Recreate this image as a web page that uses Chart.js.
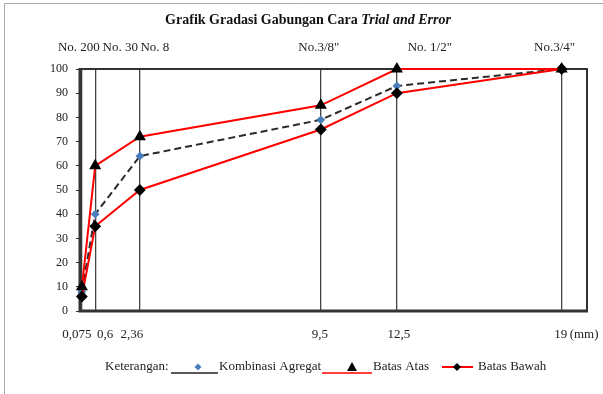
<!DOCTYPE html>
<html>
<head>
<meta charset="utf-8">
<script src="https://cdn.jsdelivr.net/npm/chart.js@4"></script>
<style>
  body { margin: 0; background: #fff; }
</style>
</head>
<body>
<canvas id="gradasiChart" width="603" height="394"></canvas>
<script>
// ukuran saringan (mm) dan nama saringan
var ukuranSaringan = [0.075, 0.6, 2.36, 9.5, 12.5, 19];
var labelBawah = ['0,075', '0,6', '2,36', '9,5', '12,5', '19'];
var labelAtas = ['No. 200', 'No. 30', 'No. 8', 'No.3/8"', 'No. 1/2"', 'No.3/4"'];

// persen lolos
var kombinasiAgregat = [8, 40, 64, 79, 93, 100];
var batasAtas = [10, 60, 72, 85, 100, 100];
var batasBawah = [6, 35, 50, 75, 90, 100];

var yTicks = [0, 10, 20, 30, 40, 50, 60, 70, 80, 90, 100];

// geser label supaya tidak tumpuk (px)
var geserAtas = [-3, 25, 15, -2, 33, -7];
var geserBawah = [-5, 10, -8, -1, 2, -1];

var FONT = '"Liberation Serif", "Times New Roman", serif';

function titik(arr){
  return arr.map(function(v, i){ return { x: ukuranSaringan[i], y: v }; });
}

var bingkai = {
  id: 'bingkai',
  beforeDatasetsDraw: function(chart){
    var c = chart.ctx, a = chart.chartArea;
    c.save();
    c.strokeStyle = '#333';
    c.lineWidth = 2;
    c.beginPath();
    c.moveTo(a.left, a.top); c.lineTo(a.right, a.top); c.lineTo(a.right, a.bottom);
    c.stroke();
    c.lineWidth = 3;
    c.beginPath();
    c.moveTo(a.left, a.top - 1); c.lineTo(a.left, a.bottom); c.lineTo(a.right + 1, a.bottom);
    c.stroke();
    c.restore();
  },
  afterDraw: function(chart){
    var c = chart.ctx, a = chart.chartArea, sx = chart.scales.x;
    c.save();
    // garis tepi halaman
    c.strokeStyle = '#aaa';
    c.lineWidth = 1;
    c.beginPath();
    c.moveTo(4.5, 394); c.lineTo(4.5, 3.5); c.lineTo(603, 3.5);
    c.stroke();

    // judul
    c.fillStyle = '#111';
    c.textBaseline = 'middle';
    var t1 = 'Grafik Gradasi Gabungan Cara ', t2 = 'Trial and Error';
    c.font = 'bold 14px ' + FONT;
    var w1 = c.measureText(t1).width;
    c.font = 'italic bold 14px ' + FONT;
    var w2 = c.measureText(t2).width;
    var x0 = 308 - (w1 + w2) / 2;
    c.font = 'bold 14px ' + FONT;
    c.textAlign = 'left';
    c.fillText(t1, x0, 20);
    c.font = 'italic bold 14px ' + FONT;
    c.fillText(t2, x0 + w1, 20);

    // label saringan atas dan bawah
    c.font = '13px ' + FONT;
    c.fillStyle = '#222';
    c.textAlign = 'center';
    ukuranSaringan.forEach(function(v, i){
      var px = sx.getPixelForValue(v);
      c.fillText(labelAtas[i], px + geserAtas[i], 48);
      c.fillText(labelBawah[i], px + geserBawah[i], 335);
    });
    c.textAlign = 'left';
    c.fillText('(mm)', sx.getPixelForValue(19) + 8, 335);

    // keterangan
    var ly = 367;
    c.fillText('Keterangan:', 105, ly);
    c.strokeStyle = '#222';
    c.lineWidth = 1.5;
    c.beginPath(); c.moveTo(171, 373); c.lineTo(218, 373); c.stroke();
    c.fillStyle = '#4a7ebb';
    c.beginPath(); c.moveTo(198, ly - 3.5); c.lineTo(201.5, ly); c.lineTo(198, ly + 3.5); c.lineTo(194.5, ly); c.closePath(); c.fill();
    c.fillStyle = '#222';
    c.fillText('Kombinasi Agregat', 219, ly);
    c.strokeStyle = '#ff0000';
    c.beginPath(); c.moveTo(322, 373); c.lineTo(372, 373); c.stroke();
    c.fillStyle = '#000';
    c.beginPath(); c.moveTo(352, ly - 5); c.lineTo(357, ly + 4); c.lineTo(347, ly + 4); c.closePath(); c.fill();
    c.fillStyle = '#222';
    c.fillText('Batas Atas', 373, ly);
    c.lineWidth = 2;
    c.beginPath(); c.moveTo(442, ly); c.lineTo(473, ly); c.stroke();
    c.fillStyle = '#000';
    c.beginPath(); c.moveTo(457, ly - 4); c.lineTo(461, ly); c.lineTo(457, ly + 4); c.lineTo(453, ly); c.closePath(); c.fill();
    c.fillStyle = '#222';
    c.fillText('Batas Bawah', 478, ly);
    c.restore();
  }
};

var ctx = document.getElementById('gradasiChart').getContext('2d');
var chart = new Chart(ctx, {
  type: 'line',
  data: {
    datasets: [{
      label: 'Batas Atas',
      data: titik(batasAtas),
      borderColor: '#ff0000',
      borderWidth: 2,
      pointStyle: 'triangle',
      pointRadius: 5,
      pointBackgroundColor: '#000',
      pointBorderColor: '#000',
      clip: false,
      order: 1
    }, {
      label: 'Batas Bawah',
      data: titik(batasBawah),
      borderColor: '#ff0000',
      borderWidth: 2,
      pointStyle: 'rectRot',
      pointRadius: 4.5,
      pointBackgroundColor: '#000',
      pointBorderColor: '#000',
      clip: false,
      order: 2
    }, {
      label: 'Kombinasi Agregat',
      data: titik(kombinasiAgregat),
      borderColor: '#2a2a2a',
      borderWidth: 2,
      borderDash: [7, 4],
      pointStyle: 'rectRot',
      pointRadius: 3,
      pointBackgroundColor: '#4a7ebb',
      pointBorderColor: '#4a7ebb',
      clip: false,
      order: 3
    }]
  },
  options: {
    responsive: false,
    animation: false,
    layout: { padding: { top: 69, left: 0, right: 16, bottom: 83 } },
    plugins: {
      legend: { display: false },
      title: { display: false },
      tooltip: { enabled: false }
    },
    elements: { line: { tension: 0 } },
    scales: {
      x: {
        type: 'linear',
        min: 0,
        max: 20,
        afterBuildTicks: function(s){
          s.ticks = ukuranSaringan.map(function(v){ return { value: v }; });
        },
        afterFit: function(s){ s.height = 0; },
        ticks: { display: false },
        border: { display: false },
        grid: { color: '#444', lineWidth: 1.3, drawTicks: false }
      },
      y: {
        min: 0,
        max: 100,
        afterBuildTicks: function(s){
          s.ticks = yTicks.map(function(v){ return { value: v }; });
        },
        afterFit: function(s){ s.width = 80; },
        border: { display: false },
        grid: { drawOnChartArea: false, drawTicks: true, tickLength: 4, color: '#333' },
        ticks: { padding: 8, color: '#222', font: { family: FONT, size: 12 } }
      }
    }
  },
  plugins: [bingkai]
});
</script>
</body>
</html>
